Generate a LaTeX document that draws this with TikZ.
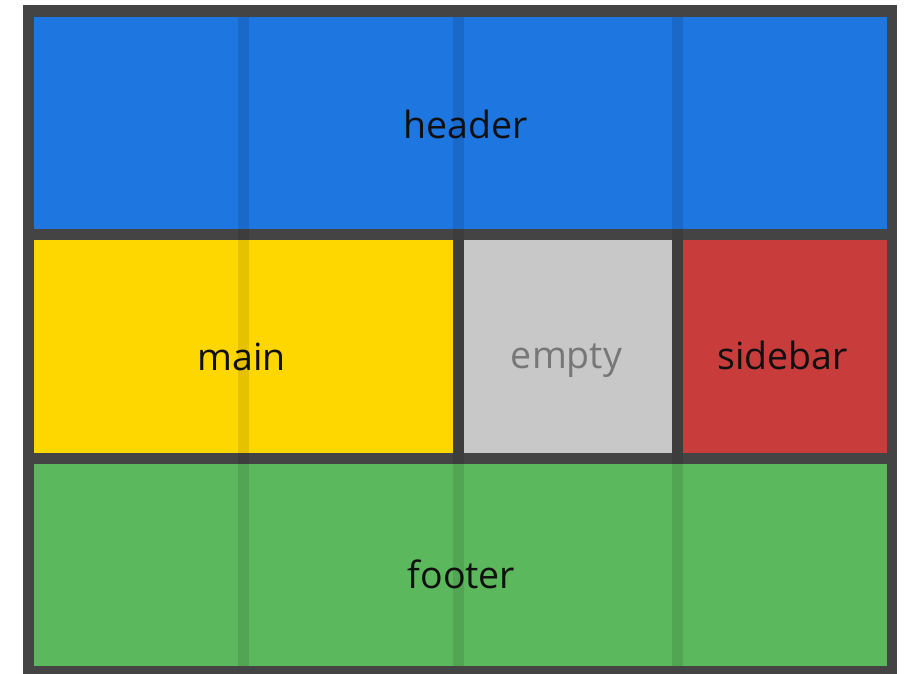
\documentclass[tikz,border=0pt]{standalone}
\usepackage{fontspec}
\setmainfont{Open Sans}
\definecolor{frame}{HTML}{444444}
\definecolor{hdr}{HTML}{1E76E0}
\definecolor{mn}{HTML}{FFD700}
\definecolor{emp}{HTML}{C8C8C8}
\definecolor{sb}{HTML}{C93C3C}
\definecolor{ft}{HTML}{5CB85C}
\definecolor{txt}{HTML}{101010}
\definecolor{emptxt}{HTML}{777777}
\tikzset{
  lbl/.style={font=\fontsize{37.5}{40}\selectfont, text=txt, inner sep=0pt, anchor=base},
  gridcol/.style={fill=black, fill opacity=0.1, draw=none}
}
\begin{document}
\begin{tikzpicture}[x=1pt,y=-1pt]
\useasboundingbox (0,0) rectangle (910,674);
\fill[white] (0,0) rectangle (910,674);
\fill[frame] (22.5,5) rectangle (897,677);
% cells
\fill[hdr] (34,17) rectangle (887,229);
\fill[mn] (34,240) rectangle (453,453);
\fill[emp] (464,240) rectangle (672,453);
\fill[sb] (683,240) rectangle (887,453);
\fill[ft] (34,464) rectangle (887,666);
\coordinate (hc) at (466,139);
\coordinate (mc) at (241.5,370);
\coordinate (ec) at (566.5,368);
\coordinate (sc) at (782.5,369);
\coordinate (fc) at (461.5,588);
\node[lbl] (header) at (hc) {header};
\node[lbl] (main) at (mc) {main};
\node[lbl, text=emptxt] (empty) at (ec) {empty};
\node[lbl] (sidebar) at (sc) {sidebar};
\node[lbl] (footer) at (fc) {footer};
% grid column overlays
\fill[gridcol] (238,17) rectangle (249,666);
\fill[gridcol] (453,17) rectangle (464,666);
\fill[gridcol] (672,17) rectangle (683,666);
\end{tikzpicture}
\end{document}
